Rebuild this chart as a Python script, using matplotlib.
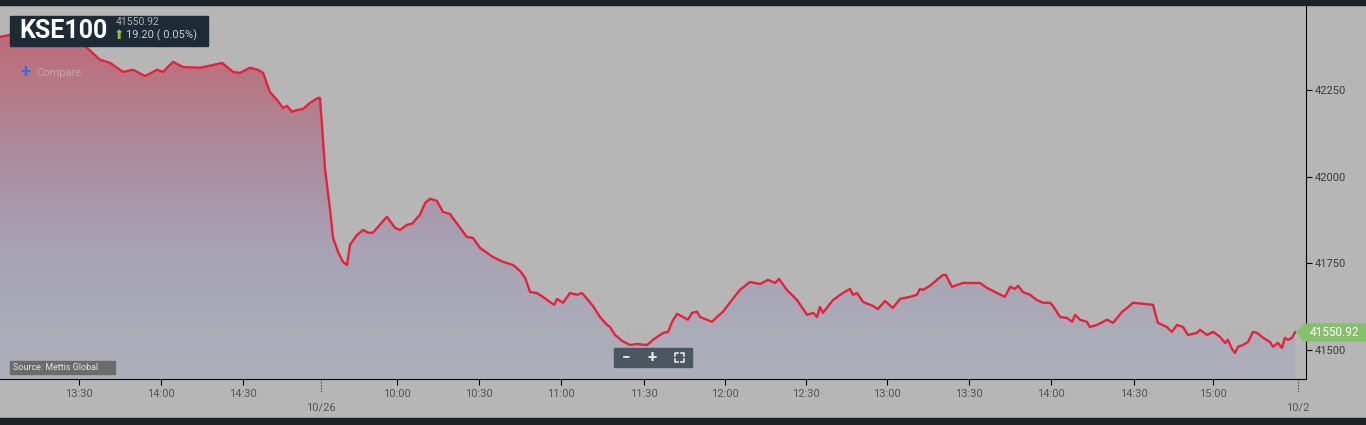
import matplotlib
matplotlib.use("Agg")
import numpy as np
import matplotlib.pyplot as plt
from matplotlib.colors import LinearSegmentedColormap
from matplotlib.patches import Rectangle, Polygon
from matplotlib.lines import Line2D
import matplotlib.transforms as mtransforms

# minutos de pregão (eixo ordinal) e valores do índice
minutos = [
    0.0, 3.7, 11.0, 18.3, 25.6, 31.1, 36.6, 40.3, 45.0, 48.7, 53.1, 57.5, 59.7,
    63.3, 67.0, 73.2, 78.0, 81.3, 85.3, 87.8, 91.5, 94.4, 96.3, 98.8, 101.4,
    103.6, 105.0, 106.9, 108.7, 110.9, 113.5, 116.4, 117.1, 117.9, 119.0, 120.8,
    121.9, 123.7, 125.5, 127.0, 128.1, 130.7, 132.9, 134.7, 136.5, 141.6, 144.6,
    146.4, 149.0, 150.8, 153.7, 155.6, 157.4, 159.9, 162.1, 164.7, 168.4, 170.9,
    173.1, 175.7, 180.4, 184.1, 187.8, 190.3, 192.2, 194.0, 196.5, 198.7, 201.3,
    202.8, 203.9, 206.1, 208.6, 211.2, 213.0, 215.2, 217.0, 219.6, 222.2, 223.3,
    225.1, 227.7, 230.6, 233.1, 236.8, 239.0, 242.7, 244.5, 246.0, 247.8, 250.0,
    251.8, 253.3, 255.1, 256.2, 260.6, 262.4, 264.6, 267.9, 270.8, 274.5, 278.2,
    281.1, 283.7, 285.1, 288.0, 291.7, 295.4, 297.6, 299.0, 300.1, 301.2, 304.9,
    308.5, 311.1, 312.2, 313.7, 315.9, 319.5, 321.3, 323.9, 326.8, 329.4, 333.1,
    335.6, 336.7, 337.8, 340.4, 342.9, 345.1, 346.2, 348.4, 351.4, 352.5, 355.0,
    358.7, 361.2, 364.9, 367.8, 369.7, 371.5, 372.6, 374.4, 377.0, 379.5, 381.7,
    384.3, 385.4, 388.0, 390.5, 392.4, 393.5, 395.3, 397.8, 398.9, 401.5, 403.7,
    405.2, 407.4, 410.7, 412.5, 414.7, 418.3, 422.0, 423.8, 427.1, 428.9, 430.8,
    433.0, 434.8, 438.1, 439.2, 441.8, 444.0, 446.5, 448.4, 449.4, 450.9, 452.0,
    453.1, 454.9, 456.8, 458.6, 460.1, 462.3, 464.8, 465.9, 467.7, 469.2, 470.3,
    471.4, 472.9, 474.0,
]
kse100 = [
    42403, 42409, 42400, 42394, 42389, 42377, 42337, 42328, 42302, 42308, 42290, 42308, 42302,
    42331, 42316, 42314, 42322, 42328, 42302, 42299, 42314, 42308, 42299, 42244, 42221,
    42198, 42204, 42187, 42192, 42195, 42213, 42227, 42227, 42143, 42019, 41904,
    41823, 41783, 41754, 41745, 41803, 41832, 41846, 41838, 41838, 41884, 41852,
    41846, 41861, 41864, 41890, 41924, 41936, 41930, 41898, 41892, 41852, 41826,
    41823, 41794, 41768, 41754, 41745, 41728, 41708, 41667, 41664, 41653, 41638,
    41630, 41647, 41636, 41664, 41659, 41664, 41644, 41627, 41595, 41572, 41566,
    41543, 41526, 41514, 41517, 41514, 41529, 41549, 41552, 41581, 41604, 41595,
    41587, 41607, 41610, 41595, 41581, 41595, 41610, 41644, 41673, 41696, 41690,
    41702, 41693, 41705, 41673, 41644, 41601, 41607, 41595, 41624, 41607, 41644,
    41664, 41676, 41659, 41664, 41638, 41627, 41618, 41641, 41621, 41647, 41653,
    41659, 41676, 41673, 41685, 41702, 41716, 41716, 41682, 41690, 41693, 41693,
    41693, 41679, 41664, 41653, 41682, 41676, 41685, 41667, 41659, 41644, 41636,
    41636, 41627, 41595, 41592, 41581, 41601, 41587, 41581, 41566, 41572, 41581,
    41587, 41578, 41610, 41621, 41636, 41633, 41630, 41578, 41566, 41552, 41572,
    41566, 41543, 41549, 41558, 41543, 41552, 41538, 41520, 41529, 41503, 41491,
    41509, 41514, 41523, 41552, 41549, 41535, 41523, 41509, 41520, 41506, 41535,
    41529, 41535, 41551,
]
ultimo = 41550.92
variacao = 19.20
variacao_pct = 0.05

hora_pos = [28.8, 58.8, 89.0, 145.4, 175.3, 205.3, 235.7, 265.2, 295.0,
            324.6, 354.5, 384.7, 414.9, 444.1]
hora_labels = ["13:30", "14:00", "14:30", "10:00", "10:30", "11:00", "11:30",
               "12:00", "12:30", "13:00", "13:30", "14:00", "14:30", "15:00"]
dia_pos = [117.5, 475.1]
dia_labels = ["10/26", "10/2"]
y_ticks = [41500, 41750, 42000, 42250]

W, H = 1366, 425
fundo = "#b6b6b6"
escuro = "#1c242b"
fonte = ["Roboto", "DejaVu Sans"]

fig = plt.figure(figsize=(W / 100, H / 100), dpi=100, facecolor=fundo)
ax = fig.add_axes([0, 1 - 379 / H, 1306 / W, 374 / H])
ax.set_facecolor(fundo)
xmax, ymin, ymax = 478.0, 41416, 42495
ax.set_xlim(0, xmax)
ax.set_ylim(ymin, ymax)

# preenchimento em degradê sob a linha
cores = [(0.0, "#adb0bb"), (0.345, "#a7a3b5"), (0.61, "#ac8b9d"),
         (0.80, "#b87684"), (0.92, "#bf6b7a"), (1.0, "#c26474")]
cmap = LinearSegmentedColormap.from_list("grad", cores)
area = ax.fill_between(minutos, kse100, ymin, color="none", lw=0)
grad = np.linspace(0, 1, 256).reshape(-1, 1)
img = ax.imshow(grad, extent=[0, xmax, ymin, ymax], origin="lower",
                cmap=cmap, aspect="auto", zorder=1)
img.set_clip_path(area.get_paths()[0], transform=ax.transData)

ax.axhline(ultimo, color="#a6b99f", lw=0.8, dashes=(3, 3), zorder=2)
ax.plot(minutos, kse100, color="#e4233b", lw=1.7, zorder=3)

for s in ["left", "top"]:
    ax.spines[s].set_visible(False)
ax.spines["right"].set_color("black")
ax.spines["bottom"].set_color("black")

ax.yaxis.tick_right()
ax.set_yticks(y_ticks)
ax.set_yticklabels([str(v) for v in y_ticks], fontfamily=fonte)
ax.tick_params(axis="y", length=4, width=0.8, colors="black", labelcolor="#3a3a3a",
               labelsize=8, pad=2)
ax.set_xticks(hora_pos)
ax.set_xticklabels(hora_labels, fontfamily=fonte)
ax.tick_params(axis="x", length=4, width=0.8, colors="black", labelcolor="#555555",
               labelsize=8, pad=3)

trans_x = mtransforms.blended_transform_factory(ax.transData, ax.transAxes)
for p, lab in zip(dia_pos, dia_labels):
    ax.plot([p, p], [0, -0.035], transform=trans_x, color="#333333", lw=0.8,
            ls=(0, (1, 1.5)), clip_on=False)
    ax.text(p, -0.075, lab, transform=trans_x, ha="center", va="center",
            fontsize=8, color="#555555", fontfamily=fonte)

# elementos da interface em pixels (y a partir do topo)
px = mtransforms.Affine2D().scale(1 / W, -1 / H).translate(0, 1) + fig.transFigure

fig.patches.append(Rectangle((0, 0), W, 5, transform=px, color=escuro, zorder=10))
fig.patches.append(Rectangle((0, 418), W, 7, transform=px, color=escuro, zorder=10))

fig.patches.append(Rectangle((10, 16), 198, 30, transform=px, color="#1e2a35", zorder=10))
fig.text(19, 31.5, "KSE100", transform=px, ha="left", va="center", color="white",
         fontsize=18, fontweight="bold", fontfamily=fonte, zorder=11)
fig.text(116, 22, f"{ultimo:.2f}", transform=px, ha="left", va="center",
         color="#aeb3b8", fontsize=7.5, fontfamily=fonte, zorder=11)
fig.text(114, 35.5, "⬆", transform=px, ha="left", va="center",
         color="#8bc34a", fontsize=9, fontfamily=["DejaVu Sans"], zorder=11)
fig.text(126, 35, f"{variacao:.2f} ( {variacao_pct:.2f}%)", transform=px, ha="left",
         va="center", color="#c8ccd0", fontsize=8, fontfamily=fonte, zorder=11)

fig.text(25, 72, "+", transform=px, ha="center", va="center", color="#3b6ad6",
         fontsize=13, fontweight="bold", fontfamily=fonte, zorder=11)
fig.text(36, 72.5, "Compare...", transform=px, ha="left", va="center",
         color="#c7a6b0", fontsize=8, fontfamily=fonte, zorder=11)

fig.patches.append(Rectangle((10, 361), 105, 13, transform=px, color="#6b6b6b", zorder=10))
fig.text(13, 367.5, "Source: Mettis Global", transform=px, ha="left", va="center",
         color="#e2e2e2", fontsize=6.5, fontfamily=fonte, zorder=11)

fig.patches.append(Rectangle((614, 348), 78, 19, transform=px, color="#4b5661", zorder=10))
fig.text(626, 357.5, "−", transform=px, ha="center", va="center", color="#e6e6e6",
         fontsize=11, fontweight="bold", fontfamily=fonte, zorder=11)
fig.text(652, 357.5, "+", transform=px, ha="center", va="center", color="#e6e6e6",
         fontsize=12, fontweight="bold", fontfamily=fonte, zorder=11)
for cx, cy, dx, dy in [(675, 353, 1, 1), (684, 353, -1, 1), (675, 362, 1, -1), (684, 362, -1, -1)]:
    fig.lines.append(Line2D([cx + 3 * dx, cx, cx], [cy, cy, cy + 3 * dy], transform=px,
                            color="#e6e6e6", lw=1.2, zorder=11))

# etiqueta do último valor
fig.patches.append(Polygon([(1297, 332.5), (1304, 324), (1366, 324), (1366, 341), (1304, 341)],
                           closed=True, transform=px, color="#86c06c", zorder=10))
fig.text(1334, 333, f"{ultimo:.2f}", transform=px, ha="center", va="center",
         color="white", fontsize=8.5, fontfamily=fonte, zorder=11)

fig.savefig("out.png", dpi=100, facecolor=fundo)
